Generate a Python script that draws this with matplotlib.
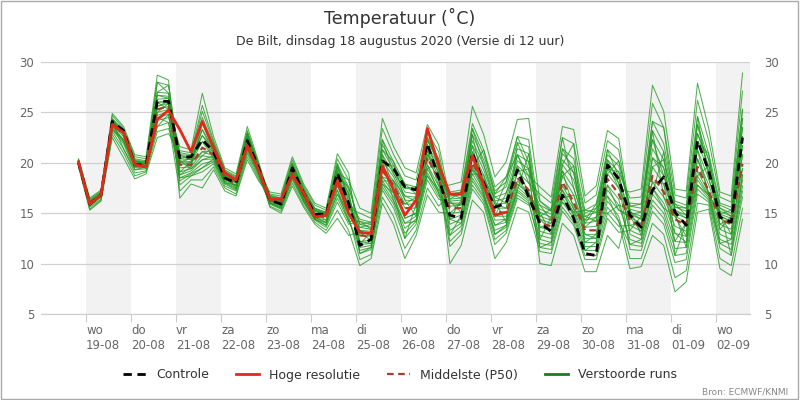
import matplotlib
matplotlib.use("Agg")
import matplotlib.pyplot as plt
from matplotlib.patches import Rectangle
from matplotlib.lines import Line2D
import pandas as pd

# tijdstappen: elke 6 uur vanaf 18-08 20:00 (lokale tijd)
times = pd.date_range("2020-08-18 20:00", periods=60, freq="6h")

controle = [20.0, 15.9, 16.8, 24.1, 23.2, 19.8, 19.8, 26.1, 26.1, 20.5,
            20.6, 22.3, 21.1, 18.5, 18.0, 22.2, 19.5, 16.3, 15.9, 19.5,
            17.0, 14.9, 14.9, 19.0, 16.0, 11.8, 12.4, 20.2, 19.4, 17.6,
            17.3, 21.9, 18.5, 14.8, 14.5, 21.0, 18.0, 15.6, 16.0, 19.3,
            16.6, 14.0, 13.2, 16.8, 14.5, 11.0, 10.8, 19.8, 18.4, 14.8,
            13.6, 17.3, 18.6, 15.1, 13.8, 22.2, 19.2, 14.6, 14.1, 22.5]

hoge_resolutie = [20.1, 15.9, 16.8, 23.8, 23.0, 19.8, 19.6, 24.3, 25.2, 23.3,
                  21.1, 24.1, 21.5, 19.0, 18.3, 21.7, 19.3, 16.4, 16.4, 18.8,
                  17.0, 14.6, 14.8, 18.2, 15.0, 13.1, 13.0, 19.7, 17.3, 14.8,
                  16.3, 23.4, 19.8, 16.9, 16.9, 20.7, 17.8, 14.8, 15.1]

middelste = [20.0, 16.0, 16.8, 23.9, 22.8, 19.9, 19.7, 25.3, 25.6, 19.8,
             19.8, 21.5, 20.8, 18.5, 17.9, 21.9, 19.3, 16.3, 16.0, 19.2,
             16.8, 14.8, 14.6, 18.5, 15.5, 12.8, 12.7, 19.2, 17.8, 15.5,
             15.5, 20.5, 18.3, 15.5, 15.5, 20.0, 17.8, 15.2, 15.0, 18.5,
             17.3, 14.0, 13.7, 18.1, 16.1, 13.3, 13.3, 18.4, 16.9, 14.3,
             13.6, 18.7, 17.1, 14.4, 13.8, 19.6, 17.2, 14.4, 13.9, 19.9]

verstoorde_runs = [
    [20.1, 16.2, 17.0, 24.2, 23.0, 20.2, 20.0, 26.3, 26.4,
     20.8, 20.7, 24.5, 21.8, 19.1, 18.5, 22.9, 19.8,
     16.5, 16.2, 19.5, 17.0, 15.0, 14.8, 19.0, 16.2,
     14.4, 14.1, 22.3, 20.1, 17.9, 17.6, 22.5, 20.4,
     13.9, 14.4, 18.9, 17.0, 13.8, 14.1, 17.6, 16.6,
     15.4, 14.9, 20.3, 19.0, 14.7, 15.1, 20.3, 19.1,
     16.5, 16.6, 25.9, 23.5, 16.8, 16.5, 26.2, 22.2, 16.6, 16.1, 27.1],
    [19.9, 15.8, 16.6, 23.5, 22.1, 19.5, 19.5, 24.5, 24.8,
     18.5, 19.0, 19.9, 20.2, 18.0, 17.4, 21.3, 18.9,
     16.0, 15.5, 18.5, 16.2, 14.4, 13.8, 16.5, 14.2,
     11.9, 12.0, 18.2, 16.6, 14.0, 14.7, 19.4, 17.3,
     16.7, 16.8, 22.8, 20.3, 16.9, 17.6, 21.4, 20.9,
     13.2, 12.9, 17.3, 15.4, 12.5, 12.5, 17.3, 15.8,
     12.4, 12.0, 16.3, 15.0, 11.5, 11.6, 17.8, 16.5, 12.4, 11.9, 17.7],
    [20.3, 16.4, 17.2, 24.7, 23.4, 20.6, 20.4, 28.0, 27.7,
     20.2, 20.1, 22.7, 21.2, 18.7, 18.1, 22.3, 19.5,
     16.7, 16.5, 19.9, 17.4, 15.4, 15.1, 19.7, 17.3,
     11.0, 11.4, 17.3, 15.5, 12.5, 13.9, 18.3, 16.4,
     16.0, 16.0, 21.1, 18.8, 15.9, 16.0, 19.7, 18.7,
     17.6, 16.6, 23.6, 23.3, 16.7, 17.7, 23.2, 22.4,
     15.1, 14.7, 21.4, 19.5, 15.3, 14.8, 22.1, 19.1, 15.2, 14.7, 22.6],
    [19.8, 15.6, 16.4, 23.1, 21.4, 19.0, 19.2, 23.6, 24.0,
     17.2, 18.3, 18.3, 19.6, 17.5, 16.9, 20.6, 18.4,
     16.2, 15.8, 18.9, 16.6, 14.6, 14.3, 17.7, 15.0,
     13.3, 13.2, 20.2, 18.6, 16.3, 16.2, 21.2, 19.0,
     12.2, 13.3, 17.8, 16.2, 12.4, 13.3, 16.8, 16.0,
     12.0, 11.8, 16.1, 14.5, 11.3, 11.3, 15.6, 14.2,
     9.5, 9.7, 12.8, 11.8, 7.2, 8.2, 15.1, 15.4, 9.5, 8.8, 14.4],
    [20.0, 16.0, 16.8, 23.9, 22.8, 19.9, 19.7, 25.3, 25.6,
     20.4, 20.3, 23.3, 21.4, 18.8, 18.2, 22.5, 19.6,
     16.9, 16.7, 20.3, 17.7, 15.8, 15.3, 20.4, 18.3,
     15.5, 15.0, 24.4, 21.6, 19.5, 19.0, 23.8, 21.8,
     16.4, 16.5, 22.2, 19.8, 16.6, 17.0, 20.8, 20.1,
     12.8, 12.5, 16.9, 15.1, 12.1, 12.1, 16.7, 15.3,
     14.9, 14.4, 20.5, 18.7, 15.0, 14.5, 21.3, 18.4, 14.9, 14.5, 21.7],
    [20.0, 16.1, 16.9, 24.0, 22.9, 20.0, 19.8, 25.6, 25.9,
     19.1, 19.4, 20.7, 20.5, 18.2, 17.7, 21.6, 19.1,
     15.7, 15.2, 18.0, 15.8, 14.1, 13.3, 15.3, 13.3,
     9.8, 10.5, 16.0, 13.9, 10.5, 12.8, 16.8, 15.1,
     15.0, 15.1, 19.6, 17.5, 14.7, 14.7, 18.2, 17.1,
     14.7, 14.3, 19.2, 17.5, 14.0, 14.2, 19.4, 18.0,
     11.4, 11.3, 15.2, 13.9, 10.1, 10.4, 16.9, 16.1, 11.5, 10.8, 16.6],
    [19.9, 15.9, 16.7, 23.6, 22.3, 19.6, 19.5, 24.7, 25.1,
     21.2, 21.0, 25.7, 22.2, 19.3, 18.7, 23.2, 19.9,
     16.6, 16.4, 19.8, 17.2, 15.3, 15.0, 19.5, 16.9,
     12.2, 12.3, 18.6, 17.0, 14.5, 15.0, 19.8, 17.7,
     17.8, 18.1, 25.6, 22.8, 18.6, 20.1, 24.3, 24.4,
     16.2, 15.4, 21.4, 20.4, 15.3, 15.9, 21.3, 20.2,
     15.7, 15.5, 23.2, 21.1, 15.9, 15.5, 23.8, 20.3, 15.8, 15.3, 24.4],
    [20.2, 16.3, 17.1, 24.4, 23.2, 20.4, 20.2, 27.0, 26.9,
     17.8, 18.7, 19.1, 19.9, 17.7, 17.2, 20.9, 18.6,
     16.4, 16.1, 19.3, 16.9, 14.9, 14.7, 18.7, 15.9,
     13.6, 13.4, 20.8, 18.9, 16.7, 16.6, 21.5, 19.4,
     10.0, 11.8, 16.3, 15.1, 10.5, 12.1, 15.6, 15.1,
     11.2, 11.0, 15.2, 13.8, 10.4, 10.4, 14.5, 13.1,
     13.3, 12.8, 17.5, 16.0, 13.0, 12.7, 18.7, 16.8, 13.4, 12.9, 18.8],
    [19.7, 15.4, 16.3, 22.8, 21.0, 18.7, 19.1, 23.1, 23.4,
     20.0, 20.0, 22.1, 21.0, 18.6, 18.0, 22.1, 19.4,
     16.0, 15.6, 18.6, 16.3, 14.4, 14.0, 16.9, 14.4,
     11.3, 11.6, 17.6, 15.9, 13.0, 14.2, 18.7, 16.7,
     16.2, 16.3, 21.7, 19.3, 16.2, 16.5, 20.2, 19.4,
     10.0, 9.8, 14.0, 12.8, 9.2, 9.2, 12.8, 11.5,
     16.0, 15.9, 24.1, 21.9, 16.2, 15.8, 24.6, 20.9, 16.0, 15.6, 25.3],
    [20.4, 16.5, 17.3, 24.9, 23.6, 20.8, 20.6, 28.7, 28.2,
     16.5, 17.9, 17.5, 19.3, 17.2, 16.7, 20.3, 18.2,
     16.8, 16.5, 20.0, 17.5, 15.5, 15.1, 19.9, 17.6,
     13.9, 13.6, 21.3, 19.3, 17.1, 16.9, 21.8, 19.7,
     13.3, 14.0, 18.5, 16.7, 13.3, 13.8, 17.3, 16.4,
     15.1, 14.6, 19.8, 18.3, 14.3, 14.6, 19.8, 18.6,
     12.9, 12.4, 16.9, 15.5, 12.2, 12.1, 18.3, 16.7, 12.9, 12.4, 18.3],
    [19.8, 15.7, 16.6, 23.3, 21.9, 19.3, 19.4, 24.2, 24.5,
     20.6, 20.5, 23.9, 21.6, 18.9, 18.3, 22.7, 19.7,
     15.6, 15.0, 17.7, 15.6, 13.9, 13.0, 14.5, 12.8,
     13.1, 12.9, 19.7, 18.2, 15.9, 15.9, 20.8, 18.7,
     17.1, 17.3, 23.9, 21.3, 17.6, 18.6, 22.6, 22.3,
     14.4, 14.0, 18.7, 16.8, 13.6, 13.7, 18.9, 17.5,
     17.1, 17.4, 27.7, 25.1, 17.4, 17.2, 27.9, 23.4, 17.1, 16.7, 28.9],
    [20.1, 16.1, 16.9, 24.1, 23.0, 20.1, 19.9, 26.0, 26.1,
     19.5, 19.6, 21.1, 20.7, 18.4, 17.8, 21.7, 19.2,
     17.1, 16.9, 20.6, 17.9, 16.0, 15.5, 20.9, 19.0,
     11.6, 11.8, 17.9, 16.2, 13.5, 14.4, 19.0, 17.0,
     14.4, 14.8, 19.3, 17.3, 14.3, 14.4, 17.9, 16.9,
     12.4, 12.1, 16.5, 14.8, 11.7, 11.7, 16.2, 14.7,
     10.5, 10.5, 14.0, 12.9, 8.6, 9.3, 16.0, 15.8, 10.5, 9.8, 15.5],
    [19.6, 15.3, 16.2, 22.5, 20.5, 18.4, 18.9, 22.5, 22.9,
     21.0, 20.8, 25.1, 22.0, 19.2, 18.6, 23.0, 19.8,
     16.3, 16.0, 19.2, 16.8, 14.8, 14.6, 18.5, 15.5,
     15.0, 14.5, 23.4, 20.8, 18.7, 18.3, 23.1, 21.1,
     15.7, 15.8, 20.6, 18.3, 15.5, 15.5, 19.1, 18.0,
     16.9, 16.0, 22.5, 21.9, 16.0, 16.8, 22.2, 21.3,
     14.6, 14.0, 19.6, 17.9, 14.7, 14.1, 20.4, 17.8, 14.7, 14.2, 20.8],
    [20.2, 16.2, 17.0, 24.3, 23.1, 20.3, 20.1, 26.7, 26.6,
     18.8, 19.2, 20.3, 20.4, 18.1, 17.5, 21.4, 19.0,
     16.1, 15.7, 18.8, 16.4, 14.5, 14.1, 17.3, 14.7,
     10.4, 10.9, 16.6, 14.7, 11.5, 13.3, 17.5, 15.7,
     16.9, 17.1, 23.4, 20.8, 17.2, 18.1, 22.0, 21.6,
     13.6, 13.3, 17.7, 15.8, 12.9, 12.9, 17.8, 16.4,
     11.9, 11.7, 15.8, 14.5, 10.8, 11.0, 17.4, 16.3, 12.0, 11.4, 17.2],
    [20.0, 15.9, 16.7, 23.8, 22.6, 19.8, 19.6, 25.0, 25.3,
     21.6, 21.3, 26.9, 22.6, 19.5, 18.9, 23.6, 20.1,
     16.5, 16.3, 19.6, 17.1, 15.2, 14.9, 19.2, 16.6,
     12.8, 12.7, 19.2, 17.8, 15.5, 15.5, 20.5, 18.3,
     11.7, 12.9, 17.4, 15.9, 11.9, 13.0, 16.5, 15.8,
     15.8, 15.2, 20.9, 19.7, 15.0, 15.5, 20.8, 19.7,
     15.4, 15.1, 22.3, 20.3, 15.6, 15.2, 22.9, 19.7, 15.5, 15.0, 23.5],
    [20.1, 16.1, 16.9, 24.1, 23.0, 20.1, 19.9, 26.0, 26.1,
     18.2, 18.9, 19.5, 20.1, 17.9, 17.3, 21.1, 18.8,
     15.9, 15.4, 18.3, 16.1, 14.3, 13.6, 16.1, 13.9,
     14.2, 13.9, 21.8, 19.7, 17.5, 17.3, 22.2, 20.1,
     12.8, 13.7, 18.2, 16.5, 12.9, 13.6, 17.1, 16.2,
     11.6, 11.4, 15.6, 14.1, 10.8, 10.8, 15.0, 13.7,
     13.8, 13.2, 18.1, 16.6, 13.7, 13.2, 19.2, 17.0, 13.9, 13.4, 19.4],
    [20.0, 16.1, 16.7, 24.1, 22.8, 19.6, 19.8, 26.7, 26.4,
     19.1, 20.1, 23.3, 21.0, 18.4, 17.7, 22.3, 19.4,
     16.5, 15.8, 19.9, 17.0, 14.5, 15.0, 19.9, 16.2,
     11.9, 13.2, 21.3, 20.1, 16.3, 14.7, 20.8, 19.4,
     16.0, 15.8, 18.9, 18.8, 14.7, 17.0, 19.7, 16.9,
     15.1, 12.9, 18.7, 19.7, 12.1, 12.9, 20.3, 18.0,
     13.3, 14.7, 23.2, 16.6, 15.0, 11.6, 22.1, 20.9, 13.9, 14.5, 24.4],
    [20.1, 15.8, 17.0, 23.6, 23.0, 20.3, 19.5, 23.6, 24.8,
     18.5, 18.7, 19.5, 20.4, 18.7, 18.2, 21.7, 19.7,
     16.2, 16.4, 18.9, 16.3, 15.5, 14.8, 17.3, 14.2,
     14.2, 13.4, 17.9, 17.0, 12.5, 15.9, 19.8, 17.0,
     12.8, 14.8, 23.4, 19.8, 16.2, 14.1, 17.3, 20.9,
     12.4, 14.6, 16.1, 15.1, 15.3, 15.1, 15.0, 15.8,
     15.4, 12.8, 16.9, 21.1, 10.8, 14.1, 17.8, 16.8, 15.2, 10.8, 18.8],
    [20.0, 16.1, 16.8, 24.2, 22.9, 19.8, 20.0, 28.0, 26.9,
     20.0, 20.5, 22.1, 20.5, 18.0, 17.8, 22.9, 19.5,
     16.4, 16.0, 19.5, 16.1, 14.4, 13.8, 19.0, 18.3,
     13.1, 12.3, 22.3, 18.9, 17.5, 17.6, 21.8, 19.0,
     16.4, 17.1, 21.7, 17.0, 12.9, 13.8, 22.0, 19.4,
     16.2, 15.2, 22.5, 17.5, 14.0, 15.5, 16.7, 14.2,
     11.9, 12.4, 20.5, 19.5, 13.0, 12.1, 20.4, 17.0, 12.0, 12.4, 20.8],
    [20.0, 16.0, 16.9, 23.3, 22.3, 20.1, 20.1, 26.0, 25.3,
     20.8, 20.3, 20.7, 21.6, 18.8, 18.0, 21.4, 19.1,
     16.0, 15.5, 19.3, 17.1, 15.0, 14.3, 19.5, 16.9,
     11.0, 11.6, 18.6, 18.2, 16.7, 16.2, 18.7, 17.3,
     14.4, 14.0, 19.6, 21.3, 16.9, 18.6, 20.8, 18.7,
     11.6, 12.1, 19.8, 21.9, 11.3, 12.1, 18.9, 20.2,
     15.7, 15.9, 22.3, 18.7, 15.6, 15.5, 18.7, 19.7, 14.9, 15.3, 19.4],
    [19.9, 16.1, 16.6, 24.0, 21.4, 19.3, 19.6, 24.5, 24.0,
     18.8, 19.6, 23.9, 21.8, 18.6, 17.5, 22.1, 18.9,
     16.7, 16.3, 18.8, 16.6, 14.9, 15.1, 19.2, 15.0,
     13.6, 13.9, 20.2, 16.2, 14.0, 14.2, 19.4, 20.1,
     15.0, 16.0, 22.8, 17.5, 15.5, 18.1, 22.6, 20.1,
     14.7, 15.4, 17.3, 14.8, 14.7, 14.2, 21.3, 18.6,
     14.9, 15.1, 24.1, 23.5, 15.3, 14.5, 23.8, 19.1, 15.5, 14.7, 25.3],
    [20.1, 16.2, 16.9, 23.9, 23.1, 20.0, 19.5, 27.0, 27.7,
     20.2, 19.4, 20.3, 20.7, 18.2, 18.3, 22.5, 19.4,
     16.1, 15.6, 18.5, 16.4, 14.6, 14.1, 16.9, 15.0,
     13.3, 12.7, 18.2, 18.2, 14.5, 15.0, 22.2, 20.4,
     16.2, 15.1, 20.6, 16.7, 13.8, 14.4, 19.1, 19.4,
     14.4, 13.3, 21.4, 19.0, 13.6, 14.6, 19.4, 19.1,
     13.8, 14.0, 17.5, 15.5, 14.7, 12.7, 24.6, 18.4, 14.7, 14.2, 22.6],
    [20.0, 15.9, 17.0, 24.3, 23.0, 20.2, 19.9, 25.6, 26.1,
     20.4, 20.7, 22.7, 21.4, 19.1, 18.1, 22.1, 19.6,
     16.5, 16.1, 19.6, 17.4, 15.3, 14.7, 18.7, 17.6,
     13.9, 14.1, 19.7, 19.7, 17.9, 16.9, 21.2, 17.7,
     14.4, 16.3, 19.3, 18.3, 16.6, 16.0, 17.9, 17.1,
     13.6, 14.0, 16.5, 16.8, 12.9, 12.5, 17.8, 15.3,
     14.6, 13.2, 19.6, 20.3, 15.9, 14.8, 21.3, 16.8, 14.9, 12.9, 23.5],
    [19.8, 15.9, 16.7, 23.8, 22.1, 19.9, 19.7, 25.0, 25.9,
     19.8, 20.0, 21.1, 21.2, 18.5, 18.0, 22.7, 19.6,
     16.3, 16.2, 19.8, 16.9, 15.2, 14.9, 17.7, 15.9,
     12.2, 12.0, 20.8, 17.4, 15.9, 16.6, 22.5, 19.7,
     16.9, 16.5, 21.1, 18.3, 15.9, 15.5, 20.8, 18.0,
     15.8, 14.3, 19.2, 15.4, 14.3, 15.9, 19.8, 17.5,
     15.1, 14.4, 18.1, 17.9, 12.2, 14.1, 22.9, 20.3, 13.4, 14.7, 21.7],
]

day_starts = pd.date_range("2020-08-19", "2020-09-02", freq="D")
day_labels = ["wo\n19-08", "do\n20-08", "vr\n21-08", "za\n22-08", "zo\n23-08",
              "ma\n24-08", "di\n25-08", "wo\n26-08", "do\n27-08", "vr\n28-08",
              "za\n29-08", "zo\n30-08", "ma\n31-08", "di\n01-09", "wo\n02-09"]
y_ticks = [5, 10, 15, 20, 25, 30]

fig = plt.figure(figsize=(8, 4), dpi=100)
ax = fig.add_axes([0.05125, 0.215, 0.88625, 0.63])

# grijze banden om de dag
for k, d in enumerate(day_starts):
    if k % 2 == 0:
        ax.axvspan(d, d + pd.Timedelta(days=1), color="#f2f2f2", lw=0, zorder=0)

for run in verstoorde_runs:
    ax.plot(times, run, color="#229a22", lw=0.75, alpha=0.78, zorder=2)

ax.plot(times, middelste, color="#a5412a", lw=1.6, ls=(0, (3, 2)), zorder=3)
ax.plot(times, controle, color="black", lw=2, ls=(0, (3, 2)), zorder=4)
ax.plot(times[:len(hoge_resolutie)], hoge_resolutie, color="#e02a1a", lw=2, zorder=5)

ax.set_xlim(pd.Timestamp("2020-08-18 00:00"), pd.Timestamp("2020-09-02 18:00"))
ax.set_ylim(5, 30)
ax.set_yticks(y_ticks)
ax.grid(axis="y", color="#d0d0d0", lw=0.9)
ax.set_axisbelow(True)
for s in ["top", "left", "right"]:
    ax.spines[s].set_visible(False)
ax.spines["bottom"].set_color("#cccccc")

ax.set_xticks(day_starts)
ax.set_xticklabels(day_labels, ha="left", fontsize=8.5, color="#666666", linespacing=1.2)
ax.tick_params(axis="x", length=6, color="#cccccc", pad=1)
ax.tick_params(axis="y", length=0, pad=5, labelsize=8.5, labelcolor="#666666")

ax2 = ax.twinx()
ax2.set_ylim(5, 30)
ax2.set_yticks(y_ticks)
ax2.tick_params(axis="y", length=0, pad=10, labelsize=8.5, labelcolor="#666666")
for s in ax2.spines.values():
    s.set_visible(False)

fig.text(0.5, 0.955, "Temperatuur (˚C)", ha="center", va="center", fontsize=12.5, color="#333333")
fig.text(0.5, 0.897, "De Bilt, dinsdag 18 augustus 2020 (Versie di 12 uur)",
         ha="center", va="center", fontsize=9, color="#333333")

handles = [
    Line2D([], [], color="black", lw=2, ls=(0, (3, 2))),
    Line2D([], [], color="#e02a1a", lw=2),
    Line2D([], [], color="#a5412a", lw=1.6, ls=(0, (3, 2))),
    Line2D([], [], color="#1f7a1f", lw=2),
]
labels = ["Controle", "Hoge resolutie", "Middelste (P50)", "Verstoorde runs"]
fig.legend(handles, labels, loc="center", bbox_to_anchor=(0.5, 0.0625), ncol=4,
           frameon=False, fontsize=9, handlelength=1.8, columnspacing=2.2,
           labelcolor="#333333")

fig.text(0.985, 0.02, "Bron: ECMWF/KNMI", ha="right", va="center", fontsize=6.5, color="#888888")
fig.add_artist(Rectangle((0.001, 0.002), 0.997, 0.996, transform=fig.transFigure,
                         fill=False, ec="#aaaaaa", lw=1))

fig.savefig("out.png", dpi=100)
